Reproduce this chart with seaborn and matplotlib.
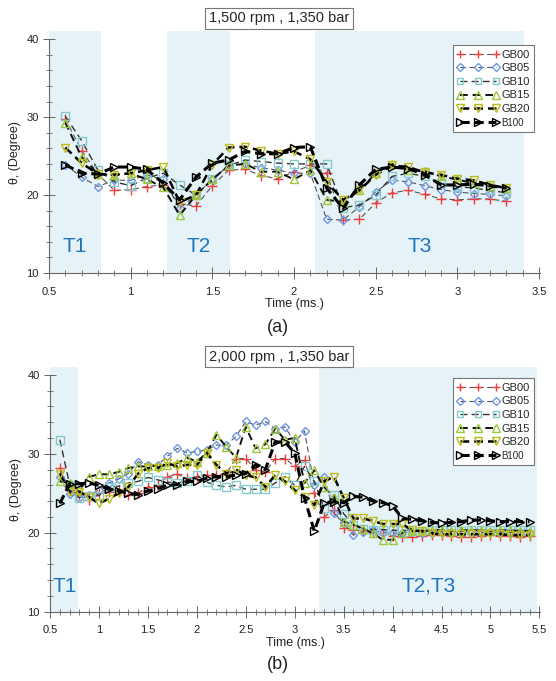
import numpy as np
import pandas as pd
import matplotlib
matplotlib.use("Agg")
import matplotlib.pyplot as plt
from matplotlib.ticker import MultipleLocator
import seaborn as sns

# ---- data ----
series = ["GB00", "GB05", "GB10", "GB15", "GB20", "B100"]

# (a) 1,500 rpm
time_a = [0.6, 0.7, 0.8, 0.9, 1.0, 1.1, 1.2, 1.3, 1.4, 1.5, 1.6, 1.7, 1.8, 1.9,
          2.0, 2.1, 2.2, 2.3, 2.4, 2.5, 2.6, 2.7, 2.8, 2.9, 3.0, 3.1, 3.2, 3.3]
gb00_a = [29.8, 25.7, 22.7, 20.6, 20.7, 21.1, 21.3, 18.9, 18.6, 21.2, 23.2, 23.3, 22.5, 22.1,
          23.0, 23.8, 22.8, 16.8, 16.9, 19.0, 20.3, 20.6, 20.1, 19.5, 19.4, 19.5, 19.5, 19.2]
gb05_a = [23.9, 22.3, 21.1, 21.9, 21.9, 22.6, 22.0, 18.3, 20.0, 22.0, 23.8, 24.0, 23.5, 23.2,
          22.8, 22.8, 16.9, 16.8, 18.5, 20.4, 21.9, 21.7, 21.2, 20.7, 20.4, 20.2, 20.1, 19.9]
gb10_a = [30.1, 27.0, 23.2, 21.7, 21.2, 22.2, 22.8, 21.3, 20.0, 22.0, 23.8, 24.5, 24.3, 24.1,
          24.0, 24.0, 24.0, 18.4, 18.7, 20.0, 22.4, 22.8, 22.4, 21.5, 21.1, 20.9, 20.6, 20.3]
gb15_a = [29.3, 24.9, 22.7, 22.6, 22.8, 22.0, 21.0, 17.4, 20.0, 22.0, 23.8, 24.0, 23.0, 23.0,
          22.0, 23.2, 19.4, 19.1, 20.6, 22.8, 24.0, 23.2, 23.1, 22.4, 22.0, 21.5, 21.2, 20.9]
gb20_a = [26.1, 24.1, 22.7, 22.6, 22.8, 23.2, 23.6, 19.1, 20.0, 23.9, 26.1, 26.2, 25.7, 25.3,
          25.6, 24.6, 21.7, 19.4, 20.6, 22.6, 23.8, 23.6, 22.9, 22.6, 22.1, 21.9, 21.3, 20.9]
b100_a = [23.9, 22.8, 22.7, 23.6, 23.6, 23.3, 21.5, 19.4, 22.3, 24.1, 24.5, 25.6, 25.3, 25.3,
          26.1, 26.2, 20.9, 18.3, 21.3, 23.3, 23.6, 23.4, 22.6, 21.3, 21.3, 21.4, 21.2, 20.9]

# (b) 2,000 rpm
time_b = [0.6, 0.7, 0.8, 0.9, 1.0, 1.1, 1.2, 1.3, 1.4, 1.5, 1.6, 1.7, 1.8, 1.9, 2.0, 2.1, 2.2,
          2.3, 2.4, 2.5, 2.6, 2.7, 2.8, 2.9, 3.0, 3.1, 3.2, 3.3, 3.4, 3.5, 3.6, 3.7, 3.8, 3.9,
          4.0, 4.1, 4.2, 4.3, 4.4, 4.5, 4.6, 4.7, 4.8, 4.9, 5.0, 5.1, 5.2, 5.3, 5.4]
gb00_b = [28.2, 25.4, 24.8, 24.2, 25.0, 25.2, 25.4, 24.8, 25.0, 25.8, 26.0, 27.1, 27.4, 26.9, 27.1, 27.3, 27.3,
          27.5, 29.4, 29.4, 28.0, 27.7, 29.4, 29.4, 28.4, 29.2, 25.0, 22.0, 22.9, 20.6, 20.4, 20.2, 20.0, 19.8,
          19.6, 19.5, 19.4, 19.6, 19.7, 19.7, 19.6, 19.5, 19.4, 19.6, 19.7, 19.6, 19.6, 19.5, 19.6]
gb05_b = [27.0, 24.9, 24.4, 24.8, 25.4, 26.3, 26.8, 27.5, 29.0, 28.6, 28.6, 29.7, 30.7, 30.1, 30.3, 30.5, 31.1,
          31.1, 32.2, 34.1, 33.6, 34.1, 33.2, 33.4, 31.5, 32.9, 26.0, 27.1, 22.5, 21.2, 19.7, 20.1, 20.3, 20.0,
          19.9, 20.0, 20.1, 20.0, 20.0, 20.1, 20.0, 20.1, 20.0, 20.0, 20.1, 20.0, 20.0, 20.1, 20.0]
gb10_b = [31.8, 26.1, 24.4, 24.6, 24.7, 25.8, 25.9, 26.3, 26.5, 27.0, 26.7, 26.4, 26.3, 26.5, 27.3, 26.4, 26.0,
          25.8, 26.0, 25.5, 25.5, 25.5, 26.3, 27.1, 26.0, 28.4, 26.5, 23.1, 24.8, 22.4, 21.0, 20.5, 20.4, 20.4,
          20.3, 20.3, 20.3, 20.2, 20.3, 20.3, 20.3, 20.2, 20.3, 20.3, 20.3, 20.3, 20.3, 20.3, 20.3]
gb15_b = [26.5, 26.3, 25.4, 27.1, 27.4, 27.4, 27.7, 28.2, 28.4, 28.4, 28.5, 28.6, 28.8, 29.5, 29.0, 30.1, 32.4,
          30.9, 29.5, 33.4, 30.7, 31.2, 33.2, 31.8, 32.0, 26.3, 27.9, 25.8, 24.5, 21.4, 21.0, 20.5, 19.9, 19.1,
          19.1, 20.0, 20.2, 20.2, 20.3, 20.3, 20.2, 20.3, 20.3, 20.3, 20.2, 20.3, 20.3, 20.2, 20.2]
gb20_b = [27.5, 25.2, 25.2, 24.5, 23.7, 24.3, 25.0, 25.8, 27.5, 28.2, 28.2, 28.8, 28.4, 28.6, 28.6, 30.1, 28.6,
          27.5, 28.0, 27.3, 27.0, 25.8, 27.3, 26.5, 25.4, 24.5, 23.5, 26.5, 27.1, 24.4, 21.8, 21.8, 21.5, 21.1,
          21.1, 21.1, 20.3, 20.2, 19.9, 19.8, 19.8, 19.8, 19.8, 19.8, 19.8, 19.8, 19.7, 19.7, 19.7]
b100_b = [23.7, 26.2, 26.2, 26.3, 26.0, 25.5, 25.3, 25.0, 24.8, 25.3, 25.6, 26.0, 26.1, 26.5, 26.5, 26.9, 27.1,
          27.1, 27.3, 27.5, 28.6, 28.0, 31.5, 31.5, 30.1, 24.4, 20.2, 23.7, 23.9, 23.8, 24.6, 24.5, 24.0, 23.8,
          23.4, 21.8, 21.7, 21.5, 21.3, 21.2, 21.3, 21.4, 21.6, 21.6, 21.5, 21.4, 21.4, 21.4, 21.4]

# shaded phases
spans_a = [(0.5, 0.82, "T1"), (1.22, 1.61, "T2"), (2.13, 3.41, "T3")]
spans_b = [(0.5, 0.79, "T1"), (3.25, 5.48, "T2,T3")]

# ---- styles ----
styles = {
    "GB00": dict(marker="+", mec="#f03c3c", color="#555555", lw=0.8, dashes=(5, 3), ms=7),
    "GB05": dict(marker="D", mec="#6f97e8", color="#555555", lw=0.8, dashes=(5, 3), ms=4.5),
    "GB10": dict(marker="s", mec="#86c9cc", color="#333333", lw=1.0, dashes=(5, 3), ms=5.5),
    "GB15": dict(marker="^", mec="#9cc93a", color="#111111", lw=1.4, dashes=(4, 2.5), ms=6),
    "GB20": dict(marker="v", mec="#bcbc1a", color="#000000", lw=1.8, dashes=(3.5, 2), ms=6),
    "B100": dict(marker=">", mec="#000000", color="#000000", lw=2.2, dashes=(3, 1.6), ms=6),
}

sns.set_style("white")
plt.rcParams["font.family"] = ["Liberation Sans", "DejaVu Sans"]

fig = plt.figure(figsize=(5.56, 6.81), dpi=100)
ax_a = fig.add_axes([0.088, 0.599, 0.883, 0.355])
ax_b = fig.add_axes([0.090, 0.102, 0.881, 0.359])


def draw(ax, t, vals, spans, xmax, legend_top, label_y):
    for x0, x1, name in spans:
        ax.axvspan(x0, x1, ymin=0, ymax=1, color="#e5f2f7", lw=0, zorder=0)
        ax.text((x0 + x1) / 2, label_y, name, color="#1f74c0", fontsize=15,
                ha="center", va="center", zorder=1)
    df = pd.DataFrame({"time": t, **dict(zip(series, vals))})
    long = df.melt(id_vars="time", var_name="fuel", value_name="theta")
    for s in series:
        st = styles[s]
        sns.lineplot(data=long[long.fuel == s], x="time", y="theta", ax=ax,
                     color=st["color"], lw=st["lw"], dashes=False,
                     marker=st["marker"], markersize=st["ms"], markerfacecolor="none",
                     markeredgecolor=st["mec"], markeredgewidth=1.0, label=s, zorder=3)
        ax.lines[-1].set_dashes(st["dashes"])
    ax.set_xlim(0.5, xmax + 0.005)
    ax.set_ylim(10, 41)
    ax.xaxis.set_minor_locator(MultipleLocator(0.1))
    ax.yaxis.set_minor_locator(MultipleLocator(2))
    ax.set_yticks([10, 20, 30, 40])
    ticks = np.arange(0.5, xmax + 0.01, 0.5)
    ax.set_xticks(ticks)
    ax.set_xticklabels([f"{v:g}" for v in ticks])
    for sp in ["top", "right"]:
        ax.spines[sp].set_visible(False)
    for sp in ["left", "bottom"]:
        ax.spines[sp].set_color("#666666")
        ax.spines[sp].set_linewidth(0.8)
    ax.spines["left"].set_bounds(10, 40)
    ax.tick_params(which="major", direction="inout", length=8, width=0.7, color="#666666",
                   labelsize=8, labelcolor="#222222")
    ax.tick_params(axis="x", which="major", pad=6)
    ax.tick_params(which="minor", direction="inout", length=5, width=0.6, color="#666666")
    ax.tick_params(axis="x", which="both", bottom=True)
    ax.tick_params(axis="y", which="both", left=True)
    ax.set_xlabel("Time (ms.)", fontsize=9, labelpad=1, color="#222222")
    ax.set_ylabel("θ, (Degree)", fontsize=9, labelpad=4, color="#222222")
    ax.grid(False)
    leg = ax.legend(loc="upper right", bbox_to_anchor=(1.0, legend_top), numpoints=3,
                    fontsize=8, handlelength=3.8, handletextpad=0.2, labelspacing=0.32,
                    borderpad=0.4, markerscale=0.85, fancybox=False, framealpha=1,
                    edgecolor="#777777")
    leg.get_frame().set_linewidth(0.8)
    leg.get_texts()[-1].set_fontsize(7)


draw(ax_a, time_a, [gb00_a, gb05_a, gb10_a, gb15_a, gb20_a, b100_a], spans_a, 3.5, 0.965, 13.4)
draw(ax_b, time_b, [gb00_b, gb05_b, gb10_b, gb15_b, gb20_b, b100_b], spans_b, 5.5, 0.976, 13.2)

box = dict(boxstyle="square,pad=0.25", fc="white", ec="#777777", lw=0.8)
fig.text(0.502, 0.973, "1,500 rpm , 1,350 bar", ha="center", va="center", fontsize=10.5, bbox=box)
fig.text(0.502, 0.476, "2,000 rpm , 1,350 bar", ha="center", va="center", fontsize=10.5, bbox=box)
fig.text(0.5, 0.519, "(a)", ha="center", va="center", fontsize=13)
fig.text(0.5, 0.024, "(b)", ha="center", va="center", fontsize=13)

fig.savefig("out.png", dpi=100)
